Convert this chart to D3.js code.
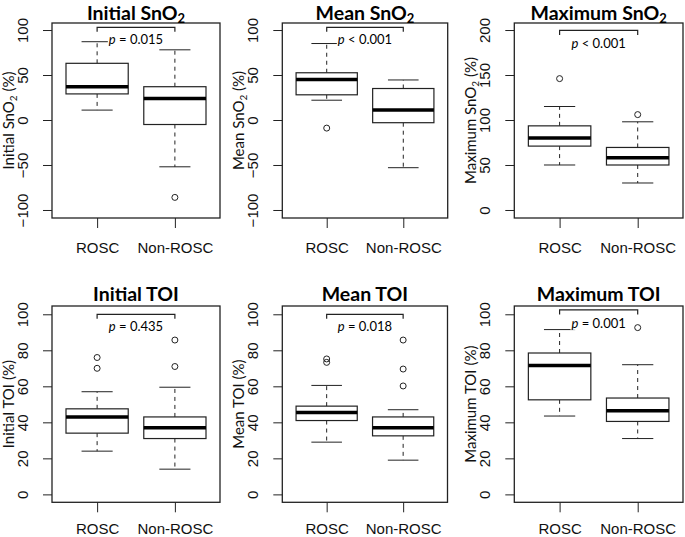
<!DOCTYPE html>
<html>
<head>
<meta charset="utf-8">
<script src="https://cdn.jsdelivr.net/npm/d3@7"></script>
<style>
  body { margin: 0; background: #fff; }
  svg { display: block; }
</style>
</head>
<body>
<div id="chart"></div>
<script>
// data
const groups = ["ROSC", "Non-ROSC"];
const measures = ["Initial", "Mean", "Maximum", "Initial", "Mean", "Maximum"];
const quantities = ["SnO", "SnO", "SnO", "TOI", "TOI", "TOI"];
const subscripts = ["2", "2", "2", "", "", ""];

// [lower whisker, Q1, median, Q3, upper whisker]
const roscStats = [
  [11, 29, 37, 63, 87],
  [22, 28, 45, 52.5, 85],
  [50, 71, 80, 93.5, 115],
  [24, 34, 43, 47.5, 57],
  [29, 41, 45.5, 49, 60.5],
  [43.5, 52.5, 71.5, 78.5, 91.5]
];
const nonRoscStats = [
  [-52, -5, 24, 37, 78],
  [-53, -3, 11, 35, 44.5],
  [30, 50, 58, 69.5, 98],
  [14, 31, 37, 43, 59.5],
  [19, 32.5, 37, 43, 47],
  [31, 40.5, 46.5, 53.5, 72]
];
const roscOutliers = [[], [-9], [146], [70, 76], [73.3, 75.2], []];
const nonRoscOutliers = [[-86], [], [106], [71, 85.7], [60.2, 69.6, 85.7], [92.6]];
const pLabels = ["= 0.015", "< 0.001", "< 0.001", "= 0.435", "= 0.018", "= 0.001"];

const yTicks = [
  [-100, -50, 0, 50, 100],
  [-100, -50, 0, 50, 100],
  [0, 50, 100, 150, 200],
  [0, 20, 40, 60, 80, 100],
  [0, 20, 40, 60, 80, 100],
  [0, 20, 40, 60, 80, 100]
];

// layout
const width = 685, height = 537;
const boxLeft = [52, 282.3, 514.3, 52, 282.3, 514.3];
const boxRight = [220, 447.7, 683, 220, 447.5, 683];
const boxTop = [23, 23, 23, 306, 306, 306];
const boxBottom = [218, 218, 218, 502.3, 502.3, 502.3];
const labelDrop = [35, 35, 35, 32, 32, 32];
const titleLift = [3, 3, 3, 5, 5, 5];
const yDomains = [
  [-108.9, 107.8], [-108.9, 107.8], [-8.9, 207.8],
  [-4.4, 104.6], [-4.4, 104.6], [-4.4, 104.6]
];
const bracketY = [103, 103, 199.5, 100, 100, 102.4];
const pTextY = [89, 89, 185, 93, 93.5, 95];

const svg = d3.select("#chart").append("svg")
  .attr("width", width)
  .attr("height", height);

const ink = "#222";

for (let i = 0; i < 6; i++) {
  const L = boxLeft[i], R = boxRight[i], T = boxTop[i], B = boxBottom[i];
  const x = d3.scaleLinear().domain([0.42, 2.58]).range([L, R]);
  const y = d3.scaleLinear().domain(yDomains[i]).range([B, T]);
  const g = svg.append("g");

  // y axis
  const ya = g.append("g")
    .attr("transform", "translate(" + L + ",0)")
    .call(d3.axisLeft(y).tickValues(yTicks[i]).tickSize(9).tickSizeOuter(0));
  ya.select(".domain").remove();
  ya.selectAll(".tick line").attr("stroke", ink);
  ya.selectAll(".tick text")
    .attr("transform", "rotate(-90)")
    .attr("x", 0)
    .attr("y", -24)
    .attr("dy", null)
    .attr("text-anchor", "middle")
    .attr("fill", "#111")
    .style("font-family", "'Liberation Sans', Arial, sans-serif")
    .style("font-size", "15px");

  // x axis
  const xa = g.append("g")
    .attr("transform", "translate(0," + B + ")")
    .call(d3.axisBottom(x).tickValues([1, 2]).tickFormat((d, k) => groups[k]).tickSize(10).tickSizeOuter(0));
  xa.select(".domain").remove();
  xa.selectAll(".tick line").attr("stroke", ink);
  xa.selectAll(".tick text")
    .attr("y", labelDrop[i])
    .attr("dy", null)
    .attr("fill", "#111")
    .style("font-family", "'Liberation Sans', Arial, sans-serif")
    .style("font-size", "15px");

  // frame
  g.append("rect")
    .attr("x", L).attr("y", T)
    .attr("width", R - L).attr("height", B - T)
    .attr("fill", "none")
    .attr("stroke", ink)
    .attr("stroke-width", 1.3);

  // title
  const title = g.append("text")
    .attr("x", (L + R) / 2)
    .attr("y", T - titleLift[i])
    .attr("text-anchor", "middle")
    .style("font-family", "Lato, 'Open Sans', sans-serif")
    .style("font-weight", "bold")
    .style("font-size", "19.5px")
    .text(measures[i] + " " + quantities[i]);
  if (subscripts[i]) {
    title.append("tspan")
      .attr("dy", 3)
      .style("font-size", "13px")
      .text(subscripts[i]);
  }

  // y axis title
  const ylab = g.append("text")
    .attr("transform", "translate(" + (L - 38) + "," + ((T + B) / 2) + ") rotate(-90)")
    .attr("text-anchor", "middle")
    .attr("fill", "#111")
    .style("font-family", "Lato, 'Open Sans', sans-serif")
    .style("font-size", "15px")
    .text(measures[i] + " " + quantities[i]);
  if (subscripts[i]) {
    ylab.append("tspan").attr("dy", 3).style("font-size", "10px").text(subscripts[i]);
    ylab.append("tspan").attr("dy", -3).text(" (%)");
  } else {
    ylab.append("tspan").text(" (%)");
  }

  // boxes
  const sets = [
    { pos: 1, s: roscStats[i], out: roscOutliers[i] },
    { pos: 2, s: nonRoscStats[i], out: nonRoscOutliers[i] }
  ];
  sets.forEach(function (d) {
    const cx = x(d.pos);
    const hw = x(d.pos + 0.4) - cx;
    const cw = x(d.pos + 0.2) - cx;
    const s = d.s;
    // whiskers
    [[s[3], s[4]], [s[1], s[0]]].forEach(function (w) {
      g.append("line")
        .attr("x1", cx).attr("x2", cx)
        .attr("y1", y(w[0])).attr("y2", y(w[1]))
        .attr("stroke", ink).attr("stroke-dasharray", "4,4");
      g.append("line")
        .attr("x1", cx - cw).attr("x2", cx + cw)
        .attr("y1", y(w[1])).attr("y2", y(w[1]))
        .attr("stroke", ink);
    });
    g.append("rect")
      .attr("x", cx - hw).attr("width", 2 * hw)
      .attr("y", y(s[3])).attr("height", y(s[1]) - y(s[3]))
      .attr("fill", "#fff")
      .attr("stroke", ink)
      .attr("stroke-width", 1.2);
    g.append("line")
      .attr("x1", cx - hw).attr("x2", cx + hw)
      .attr("y1", y(s[2])).attr("y2", y(s[2]))
      .attr("stroke", "#000").attr("stroke-width", 3.5);
    g.selectAll(null).data(d.out).enter().append("circle")
      .attr("cx", cx).attr("cy", function (v) { return y(v); })
      .attr("r", 3)
      .attr("fill", "none")
      .attr("stroke", ink);
  });

  // significance bracket
  const by = y(bracketY[i]);
  g.append("path")
    .attr("d", "M" + x(1) + "," + (by + 4.5) + "V" + by + "H" + x(2) + "V" + (by + 4.5))
    .attr("fill", "none")
    .attr("stroke", ink)
    .attr("stroke-width", 1.2);

  const pg = g.append("g");
  const pt = pg.append("text")
    .attr("x", x(1.5))
    .attr("y", y(pTextY[i]))
    .attr("dy", "0.35em")
    .attr("text-anchor", "middle")
    .style("font-family", "Lato, 'Open Sans', sans-serif")
    .style("font-size", "13px");
  pt.append("tspan").style("font-style", "italic").text("p");
  pt.append("tspan").text(" " + pLabels[i]);
  const bb = pt.node().getBBox();
  pg.insert("rect", "text")
    .attr("x", bb.x - 1).attr("y", bb.y + 1)
    .attr("width", bb.width + 2).attr("height", bb.height - 2)
    .attr("fill", "#fff");
}
</script>
</body>
</html>
